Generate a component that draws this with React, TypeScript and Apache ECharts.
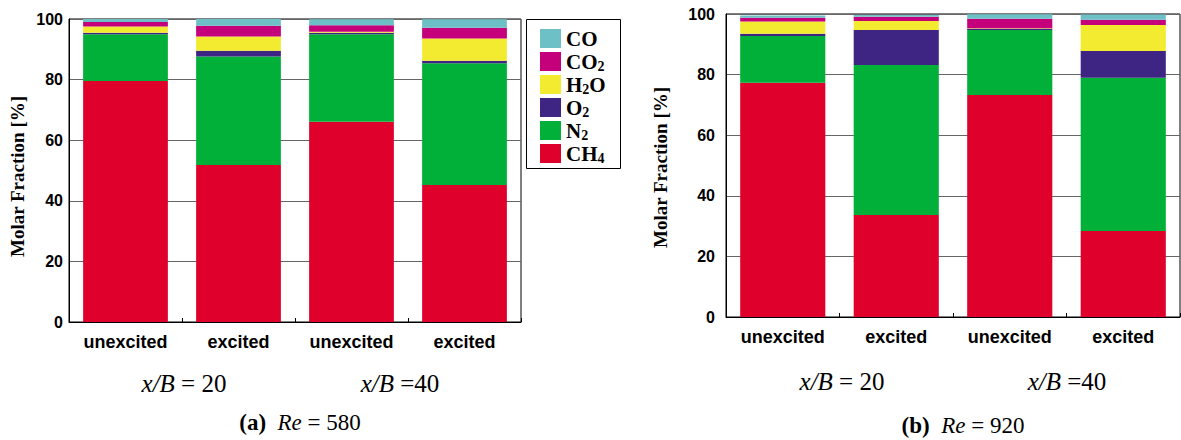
import React, { useEffect, useRef } from 'react';
import * as echarts from 'echarts';

const categories = ['unexcited', 'excited', 'unexcited', 'excited'];
const speciesNames = ['CH4', 'N2', 'O2', 'H2O', 'CO2', 'CO'];
const legendOrder = ['CO', 'CO2', 'H2O', 'O2', 'N2', 'CH4'];
const yTicks = [0, 20, 40, 60, 80, 100];

// (a) Re = 580
const a_CH4 = [79.5, 51.8, 66.1, 45.2];
const a_N2 = [15.5, 35.8, 28.9, 40.2];
const a_O2 = [0.5, 1.9, 0.5, 0.8];
const a_H2O = [2.0, 4.7, 0.3, 7.4];
const a_CO2 = [1.5, 3.6, 2.1, 3.5];
const a_CO = [1.0, 2.2, 2.0, 2.8];

// (b) Re = 920
const b_CH4 = [77.3, 33.7, 73.3, 28.4];
const b_N2 = [15.4, 49.5, 21.4, 50.6];
const b_O2 = [0.8, 11.5, 0.4, 8.8];
const b_H2O = [4.0, 3.0, 0.2, 8.6];
const b_CO2 = [1.3, 1.4, 3.1, 1.7];
const b_CO = [0.7, 0.6, 1.5, 1.7];

const colors: Record<string, string> = {
  CH4: '#e0002c',
  N2: '#00b038',
  O2: '#3e2583',
  H2O: '#f2eb30',
  CO2: '#c4007a',
  CO: '#6cc0c6',
};

const legendLabels: Record<string, string> = {
  CO: '{n|CO}{s| }',
  CO2: '{n|CO}{s|2}',
  H2O: '{n|H}{s|2}{n|O}',
  O2: '{n|O}{s|2}',
  N2: '{n|N}{s|2}',
  CH4: '{n|CH}{s|4}',
};

const SERIF = '"Liberation Serif", "Times New Roman", serif';
const SANS = '"Liberation Sans", Arial, sans-serif';
const TNR = '"Times New Roman", Times, "Liberation Serif", serif';

function makeSeries(vals: Record<string, number[]>, idx: number) {
  return speciesNames.map((n) => ({
    name: n,
    type: 'bar',
    stack: 'stack' + idx,
    xAxisIndex: idx,
    yAxisIndex: idx,
    data: vals[n],
    barWidth: '75%',
    itemStyle: { color: colors[n] },
    emphasis: { disabled: true },
  }));
}

function xAxisCfg(idx: number) {
  return {
    type: 'category',
    gridIndex: idx,
    data: categories,
    axisLine: { lineStyle: { color: '#000', width: 1 } },
    axisTick: { show: true, inside: true, length: 4, lineStyle: { color: '#000' } },
    axisLabel: { fontFamily: SANS, fontWeight: 'bold', fontSize: 18, color: '#000', margin: 11 },
  };
}

function yAxisCfg(idx: number, nameGap: number, labelMargin: number, namePad: number[]) {
  return {
    type: 'value',
    gridIndex: idx,
    min: yTicks[0],
    max: yTicks[yTicks.length - 1],
    interval: 20,
    axisLine: { show: true, lineStyle: { color: '#000', width: 1 } },
    axisTick: { show: false },
    splitLine: { show: true, lineStyle: { color: '#666', width: 1 } },
    axisLabel: { fontFamily: SANS, fontWeight: 'bold', fontSize: 16, color: '#000', margin: labelMargin },
    name: 'Molar Fraction [%]',
    nameLocation: 'middle',
    nameGap,
    nameTextStyle: { fontFamily: SERIF, fontWeight: 'bold', fontSize: 19, color: '#000', padding: namePad },
  };
}

const textRich = {
  i: { fontFamily: TNR, fontStyle: 'italic', fontWeight: 400, fontSize: 25, fill: '#000' },
  r: { fontFamily: TNR, fontStyle: 'normal', fontWeight: 400, fontSize: 25, fill: '#000' },
};
const capRich = {
  b: { fontFamily: TNR, fontStyle: 'normal', fontWeight: 'bold', fontSize: 23, fill: '#000' },
  i: { fontFamily: TNR, fontStyle: 'italic', fontWeight: 400, fontSize: 23, fill: '#000' },
  r: { fontFamily: TNR, fontStyle: 'normal', fontWeight: 400, fontSize: 23, fill: '#000' },
};

function label(x: number, y: number, text: string, rich: any) {
  return {
    type: 'text',
    x,
    y,
    style: {
      text,
      rich,
      fontFamily: TNR,
      fontSize: 25,
      fontWeight: 400,
      align: 'center',
      verticalAlign: 'middle',
      fill: '#000',
    },
  };
}

export default function App() {
  const ref = useRef<HTMLDivElement>(null);
  useEffect(() => {
    document.body.style.margin = '0';
    const chart = echarts.init(ref.current!, undefined, { renderer: 'svg' });
    const aVals = { CH4: a_CH4, N2: a_N2, O2: a_O2, H2O: a_H2O, CO2: a_CO2, CO: a_CO };
    const bVals = { CH4: b_CH4, N2: b_N2, O2: b_O2, H2O: b_H2O, CO2: b_CO2, CO: b_CO };
    chart.setOption({
      animation: false,
      backgroundColor: '#fff',
      grid: [
        { left: 69, top: 19, width: 452, height: 303, show: true, borderColor: '#000', borderWidth: 1, backgroundColor: 'transparent' },
        { left: 726, top: 14, width: 454, height: 303, show: true, borderColor: '#000', borderWidth: 1, backgroundColor: 'transparent' },
      ],
      xAxis: [xAxisCfg(0), xAxisCfg(1)],
      yAxis: [yAxisCfg(0, 42, 6, [0, 12, 0, 0]), yAxisCfg(1, 56, 11, [0, 4, 0, 0])],
      legend: {
        data: legendOrder,
        orient: 'vertical',
        left: 540,
        top: 27,
        padding: 0,
        itemWidth: 21,
        itemHeight: 19,
        itemGap: 0,
        icon: 'rect',
        selectedMode: false,
        formatter: (name: string) => legendLabels[name],
        textStyle: {
          color: '#000',
          fontFamily: SERIF,
          fontWeight: 'bold',
          fontSize: 21,
          rich: {
            n: { fontFamily: SERIF, fontWeight: 'bold', fontSize: 21, color: '#000', lineHeight: 19 },
            s: { fontFamily: SERIF, fontWeight: 'bold', fontSize: 14, color: '#000', lineHeight: 14, padding: [9, 0, 0, 0] },
          },
        },
      },
      graphic: [
        {
          type: 'rect',
          shape: { x: 526.5, y: 19.5, width: 94, height: 149 },
          style: { fill: 'none', stroke: '#000', lineWidth: 1 },
          z: 100,
        },
        label(184, 383, '{i|x/B}{r| = 20}', textRich),
        label(400, 383, '{i|x/B}{r| =40}', textRich),
        label(300, 422, '{b|(a)}{r|  }{i|Re}{r| = 580}', capRich),
        label(842, 381, '{i|x/B}{r| = 20}', textRich),
        label(1067, 381, '{i|x/B}{r| =40}', textRich),
        label(963, 425, '{b|(b)}{r|  }{i|Re}{r| = 920}', capRich),
      ],
      series: [...makeSeries(aVals, 0), ...makeSeries(bVals, 1)],
    });
    return () => chart.dispose();
  }, []);
  return <div ref={ref} style={{ width: 1181, height: 440 }} />;
}
